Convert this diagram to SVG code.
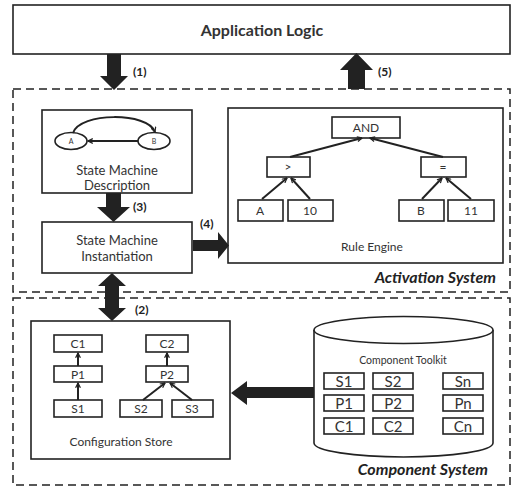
<svg xmlns="http://www.w3.org/2000/svg" width="512" height="486" viewBox="0 0 512 486">
<style>
.box{fill:#fff;stroke:#222;stroke-width:1.6}
.dash{fill:none;stroke:#222;stroke-width:1.5;stroke-dasharray:8,5}
.t{font-family:Lato,"Open Sans",sans-serif;fill:#333;text-anchor:middle}
.lbl{font-family:Lato,"Open Sans",sans-serif;font-weight:bold;font-size:12px;fill:#222}
.sys{font-family:Lato,"Open Sans",sans-serif;font-weight:bold;font-style:italic;font-size:16px;fill:#222;text-anchor:end}
.big{fill:#222;stroke:none}
.ln{stroke:#222;stroke-width:2;fill:none;marker-end:url(#v)}
</style>
<defs>
<marker id="v" viewBox="0 0 10 10" refX="9" refY="5" markerWidth="6" markerHeight="6" orient="auto" markerUnits="userSpaceOnUse">
<path d="M1,1 L9,5 L1,9" fill="none" stroke="#222" stroke-width="2"/>
</marker>
</defs>
<rect width="512" height="486" fill="#fff"/>

<g id="app-logic">
<rect class="box" x="13" y="5" width="497" height="49"/>
<text class="t" x="262" y="36" font-size="16" font-weight="bold" fill="#222">Application Logic</text>
</g>

<g id="activation-system">
<rect class="dash" x="13" y="89" width="497" height="203"/>
<text class="sys" x="496" y="283">Activation System</text>
</g>

<g id="component-system">
<rect class="dash" x="13" y="298" width="497" height="187"/>
<text class="sys" x="488" y="475">Component System</text>
</g>

<g id="sm-description">
<rect class="box" x="42" y="110" width="150" height="83"/>
<ellipse cx="71" cy="141" rx="16" ry="8.5" fill="#fff" stroke="#222" stroke-width="1.6"/>
<ellipse cx="154" cy="141" rx="16" ry="8.5" fill="#fff" stroke="#222" stroke-width="1.6"/>
<text class="t" x="71" y="144" font-size="7">A</text>
<text class="t" x="154" y="144" font-size="7">B</text>
<path class="ln" d="M138,141 L88,141"/>
<path class="ln" d="M73,133 C80,112 148,112 155,132"/>
<text class="t" x="117" y="175" font-size="13">State Machine</text>
<text class="t" x="117" y="190" font-size="13">Description</text>
</g>

<g id="sm-instantiation">
<rect class="box" x="42" y="222" width="150" height="51"/>
<text class="t" x="117" y="245" font-size="13">State Machine</text>
<text class="t" x="117" y="261" font-size="13">Instantiation</text>
</g>

<g id="rule-engine">
<rect class="box" x="228" y="108" width="275" height="155"/>
<rect class="box" x="332" y="117" width="68" height="21"/>
<text class="t" x="366" y="132" font-size="12">AND</text>
<rect class="box" x="267" y="157" width="43" height="20"/>
<text class="t" x="288" y="171" font-size="12" fill="#888">&gt;</text>
<rect class="box" x="421" y="157" width="45" height="20"/>
<text class="t" x="443" y="171" font-size="12" fill="#888">=</text>
<rect class="box" x="238" y="200" width="45" height="21"/>
<text class="t" x="260" y="215" font-size="12">A</text>
<rect class="box" x="288" y="200" width="45" height="21"/>
<text class="t" x="310" y="215" font-size="12">10</text>
<rect class="box" x="399" y="200" width="45" height="21"/>
<text class="t" x="421" y="215" font-size="12">B</text>
<rect class="box" x="448" y="200" width="46" height="21"/>
<text class="t" x="471" y="215" font-size="12">11</text>
<path class="ln" d="M290,157 L362,138"/>
<path class="ln" d="M443,157 L370,138"/>
<path class="ln" d="M262,199 L287,178"/>
<path class="ln" d="M310,199 L291,178"/>
<path class="ln" d="M422,199 L442,178"/>
<path class="ln" d="M471,199 L446,178"/>
<text class="t" x="372" y="251" font-size="12">Rule Engine</text>
</g>

<g id="config-store">
<rect class="box" x="31" y="321" width="199" height="138"/>
<rect class="box" x="54" y="335" width="48" height="17"/>
<text class="t" x="78" y="348" font-size="12">C1</text>
<rect class="box" x="54" y="366" width="48" height="16"/>
<text class="t" x="78" y="379" font-size="12">P1</text>
<rect class="box" x="54" y="400" width="48" height="17"/>
<text class="t" x="78" y="413" font-size="12">S1</text>
<rect class="box" x="146" y="335" width="42" height="17"/>
<text class="t" x="167" y="348" font-size="12">C2</text>
<rect class="box" x="146" y="366" width="42" height="16"/>
<text class="t" x="167" y="379" font-size="12">P2</text>
<rect class="box" x="120" y="400" width="42" height="17"/>
<text class="t" x="141" y="413" font-size="12">S2</text>
<rect class="box" x="172" y="400" width="41" height="17"/>
<text class="t" x="192" y="413" font-size="12">S3</text>
<path class="ln" d="M78,400 L78,383"/>
<path class="ln" d="M78,366 L78,353"/>
<path class="ln" d="M167,366 L167,353"/>
<path class="ln" d="M143,400 L165,383"/>
<path class="ln" d="M192,400 L170,383"/>
<text class="t" x="121" y="446" font-size="12">Configuration Store</text>
</g>

<g id="component-toolkit">
<path d="M314,330 L314,443 A89.5,14 0 0 0 493,443 L493,330" fill="#fff" stroke="#222" stroke-width="1.6"/>
<ellipse cx="403.5" cy="330" rx="89.5" ry="13.5" fill="#fff" stroke="#222" stroke-width="1.6"/>
<text class="t" x="403" y="364" font-size="10.5">Component Toolkit</text>
<rect class="box" x="324" y="373" width="40" height="16"/>
<text class="t" x="344" y="387" font-size="15">S1</text>
<rect class="box" x="373" y="373" width="40" height="16"/>
<text class="t" x="393" y="387" font-size="15">S2</text>
<rect class="box" x="443" y="373" width="40" height="16"/>
<text class="t" x="463" y="387" font-size="15">Sn</text>
<rect class="box" x="324" y="395" width="40" height="16"/>
<text class="t" x="344" y="409" font-size="15">P1</text>
<rect class="box" x="373" y="395" width="40" height="16"/>
<text class="t" x="393" y="409" font-size="15">P2</text>
<rect class="box" x="443" y="395" width="40" height="16"/>
<text class="t" x="463" y="409" font-size="15">Pn</text>
<rect class="box" x="324" y="418" width="40" height="16"/>
<text class="t" x="344" y="432" font-size="15">C1</text>
<rect class="box" x="373" y="418" width="40" height="16"/>
<text class="t" x="393" y="432" font-size="15">C2</text>
<rect class="box" x="443" y="418" width="40" height="16"/>
<text class="t" x="463" y="432" font-size="15">Cn</text>
</g>

<g id="connectors">
<polygon class="big" points="107,54 121,54 121,76 128,76 114,90 100,76 107,76"/>
<text class="lbl" x="133" y="76">(1)</text>
<polygon class="big" points="348,89 365,89 365,70 373,70 356.5,53 340,70 348,70"/>
<text class="lbl" x="378" y="76">(5)</text>
<polygon class="big" points="106,193 121,193 121,207 130,207 113.5,222 97,207 106,207"/>
<text class="lbl" x="133" y="211">(3)</text>
<polygon class="big" points="193,240 218,240 218,232 229,245.5 218,259 218,251 193,251"/>
<text class="lbl" x="200" y="228">(4)</text>
<polygon class="big" points="112,273 126,286 119,286 119,308 126,308 112,321 98,308 105,308 105,286 98,286"/>
<text class="lbl" x="135" y="314">(2)</text>
<polygon class="big" points="314,387 247,387 247,381 231,393 247,405 247,398 314,398"/>
</g>
</svg>
